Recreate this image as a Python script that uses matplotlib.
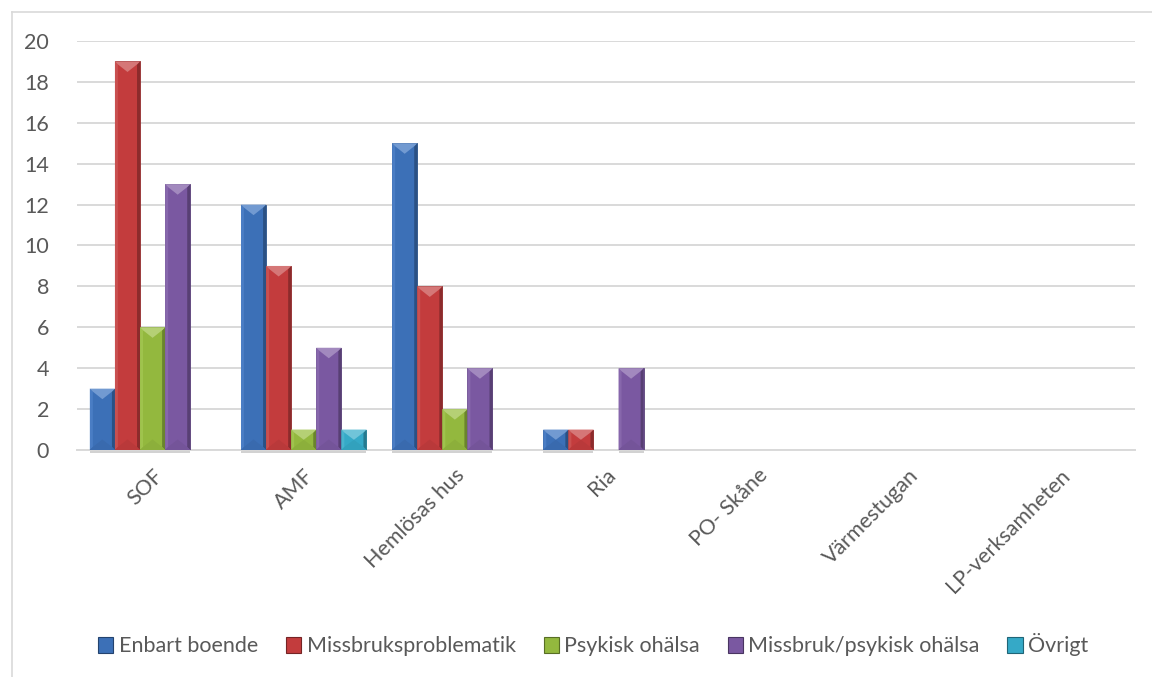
import matplotlib
matplotlib.use("Agg")
import matplotlib.pyplot as plt
from matplotlib.patches import Polygon, Rectangle
from matplotlib.lines import Line2D
import numpy as np
import colorsys
import matplotlib.colors as mcolors

categories = ["SOF", "AMF", "Hemlösas hus", "Ria", "PO- Skåne", "Värmestugan", "LP-verksamheten"]
series_names = ["Enbart boende", "Missbruksproblematik", "Psykisk ohälsa", "Missbruk/psykisk ohälsa", "Övrigt"]
enbart_boende = [3, 12, 15, 1, 0, 0, 0]
missbruksproblematik = [19, 9, 8, 1, 0, 0, 0]
psykisk_ohalsa = [6, 1, 2, 0, 0, 0, 0]
missbruk_psykisk = [13, 5, 4, 4, 0, 0, 0]
ovrigt = [0, 1, 0, 0, 0, 0, 0]
series_values = [enbart_boende, missbruksproblematik, psykisk_ohalsa, missbruk_psykisk, ovrigt]
colors = ["#3c70b7", "#c33c3d", "#93b83e", "#7a58a1", "#35a9c7"]
yticks = [0, 2, 4, 6, 8, 10, 12, 14, 16, 18, 20]

FONT = ["Lato", "DejaVu Sans"]
plt.rcParams['font.family'] = FONT
TXT = "#595959"
FS = 15.5

W, H = 1152, 677
fig = plt.figure(figsize=(W / 100, H / 100), dpi=100)
ax_l, ax_r, ax_t, ax_b = 77, 1135, 41, 450
ax = fig.add_axes([ax_l / W, 1 - ax_b / H, (ax_r - ax_l) / W, (ax_b - ax_t) / H])
xmin, xmax, ymin, ymax = -0.5, len(categories) - 0.5, 0, 20
ax.set_xlim(xmin, xmax)
ax.set_ylim(ymin, ymax)
sx = (ax_r - ax_l) / (xmax - xmin)   # px per x unit
sy = (ax_b - ax_t) / (ymax - ymin)   # px per y unit

# chart border
fig.add_artist(Line2D([12 / W, 12 / W], [0, 1 - 12 / H], color="#d9d9d9", lw=1.2))
fig.add_artist(Line2D([12 / W, 1], [1 - 12 / H, 1 - 12 / H], color="#d9d9d9", lw=1.2))

ax.set_yticks(yticks)
ax.grid(axis="y", color="#d9d9d9", lw=1.4)
ax.set_axisbelow(True)
for s in ["left", "right", "top"]:
    ax.spines[s].set_visible(False)
ax.spines["bottom"].set_color("#d9d9d9")
ax.spines["bottom"].set_linewidth(1.4)
ax.tick_params(axis="both", length=0, labelsize=FS, labelcolor=TXT)
ax.tick_params(axis="y", pad=20)

x = np.arange(len(categories))
bw = 0.166
n = len(series_names)


def shade(c, f):
    r, g, b = mcolors.to_rgb(c)
    h, l, s = colorsys.rgb_to_hls(r, g, b)
    l = max(0, min(1, l * f if f < 1 else l + (1 - l) * (f - 1)))
    return colorsys.hls_to_rgb(h, l, s)


for i, (name, vals, col) in enumerate(zip(series_names, series_values, colors)):
    pos = x + (i - (n - 1) / 2) * bw
    bars = ax.bar(pos, vals, width=bw, color=col, label=name, zorder=3,
                  edgecolor=shade(col, 0.75), linewidth=0.6)
    for b, v in zip(bars, vals):
        if v <= 0:
            continue
        x0 = b.get_x()
        x1 = x0 + b.get_width()
        y0 = 0
        y1 = v
        cx = (x0 + x1) / 2
        wpx = b.get_width() * sx
        hpx = v * sy
        d = 3.0  # side bevel px
        dx = d / sx
        dy = d / sy
        tri = min(0.42 * wpx, hpx / 2) / sy
        # shadow under bar
        ax.add_patch(Rectangle((x0, -3.0 / sy), x1 - x0, 3.0 / sy, color="#d2d2d2",
                               zorder=2, clip_on=False, lw=0))
        # left bevel
        ax.add_patch(Polygon([(x0, y1), (x0 + dx, y1 - dy), (x0 + dx, y0 + dy), (x0, y0)],
                             closed=True, color=shade(col, 1.1), lw=0, zorder=4))
        # right bevel
        ax.add_patch(Polygon([(x1, y1), (x1 - dx, y1 - dy), (x1 - dx, y0 + dy), (x1, y0)],
                             closed=True, color=shade(col, 0.72), lw=0, zorder=4))
        # bottom bevel (subtle)
        ax.add_patch(Polygon([(x0, y0), (x1, y0), (x1 - dx, y0 + dy), (cx, y0 + tri), (x0 + dx, y0 + dy)],
                             closed=True, color=shade(col, 0.95), lw=0, zorder=4))
        # top bevel
        ax.add_patch(Polygon([(x0, y1), (x1, y1), (x1 - dx, y1 - dy), (cx, y1 - tri), (x0 + dx, y1 - dy)],
                             closed=True, color=shade(col, 1.3), lw=0, zorder=4))

ax.set_xticks(x)
ax.set_xticklabels(categories, rotation=45, ha="right", va="top", rotation_mode="anchor")
ax.tick_params(axis="x", pad=11)

leg = fig.legend(loc="center", bbox_to_anchor=(0.515, 1 - 645 / H), ncol=5, frameon=False,
                 fontsize=FS, handlelength=0.7, handleheight=0.7, handletextpad=0.25,
                 columnspacing=1.3, labelcolor=TXT)
for h, col in zip(leg.legend_handles, colors):
    h.set_edgecolor(shade(col, 0.6))
    h.set_linewidth(0.8)

fig.savefig("out.png", dpi=100)
